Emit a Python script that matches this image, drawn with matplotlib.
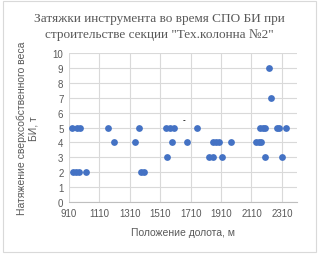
import matplotlib
matplotlib.use("Agg")
import matplotlib.pyplot as plt
from matplotlib.patches import Rectangle

# --- Данные (положение долота, м / натяжение, т) ---
glubina = [930, 960, 983, 1165, 1369, 1545, 1576, 1598, 1749,
           2165, 2183, 2198, 2279, 2290, 2336,
           1209, 1343, 1585, 1684, 1859, 1876, 1894, 1973, 2139, 2157, 2172,
           1554, 1833, 1859, 1914, 2196, 2308,
           934, 956, 978, 1024, 1385, 1400,
           2225, 2238]
natyazhenie = [5, 5, 5, 5, 5, 5, 5, 5, 5,
               5, 5, 5, 5, 5, 5,
               4, 4, 4, 4, 4, 4, 4, 4, 4, 4, 4,
               3, 3, 3, 3, 3, 3,
               2, 2, 2, 2, 2, 2,
               9, 7]

x_ticks = list(range(910, 2311, 200))
y_ticks = list(range(0, 11))

title = 'Затяжки инструмента во время СПО БИ при\nстроительстве секции "Тех.колонна №2"'
xlabel = "Положение долота, м"
ylabel = "Натяжение сверхсобственного веса\nБИ, т"

gray = "#595959"

fig = plt.figure(figsize=(3.19, 2.55), dpi=100)
ax = fig.add_axes([0.2163, 0.204, 0.715, 0.584])

ax.scatter(glubina, natyazhenie, s=24, color="#4472C4", zorder=3, linewidths=0)
ax.text(1665, 5.5, "-", fontsize=5.5, color="black", ha="center", va="center")

ax.set_xlim(910, 2410)
ax.set_ylim(0, 10)
ax.set_xticks(x_ticks)
ax.set_yticks(y_ticks)
ax.grid(True, color="#d9d9d9", linewidth=0.8, zorder=0)
ax.set_axisbelow(True)
for s in ["top", "right", "left"]:
    ax.spines[s].set_visible(False)
ax.spines["bottom"].set_color("#bfbfbf")
ax.tick_params(length=0, labelsize=7, labelcolor=gray, pad=4)
for lbl in ax.get_xticklabels() + ax.get_yticklabels():
    lbl.set_family("Liberation Sans")

ax.set_xlabel(xlabel, fontsize=7.5, color=gray, family="Liberation Sans", labelpad=7)
ax.set_ylabel(ylabel, fontsize=7.5, color=gray, family="Liberation Sans", labelpad=10)

fig.text(0.5, 0.893, title, ha="center", va="center", fontsize=9.5, color=gray,
         family="Liberation Serif", linespacing=1.4)

fig.patches.append(Rectangle((0.008, 0.008), 0.984, 0.984, transform=fig.transFigure,
                             fill=False, edgecolor="#d9d9d9", linewidth=0.8))

fig.savefig("out.png", dpi=100)
